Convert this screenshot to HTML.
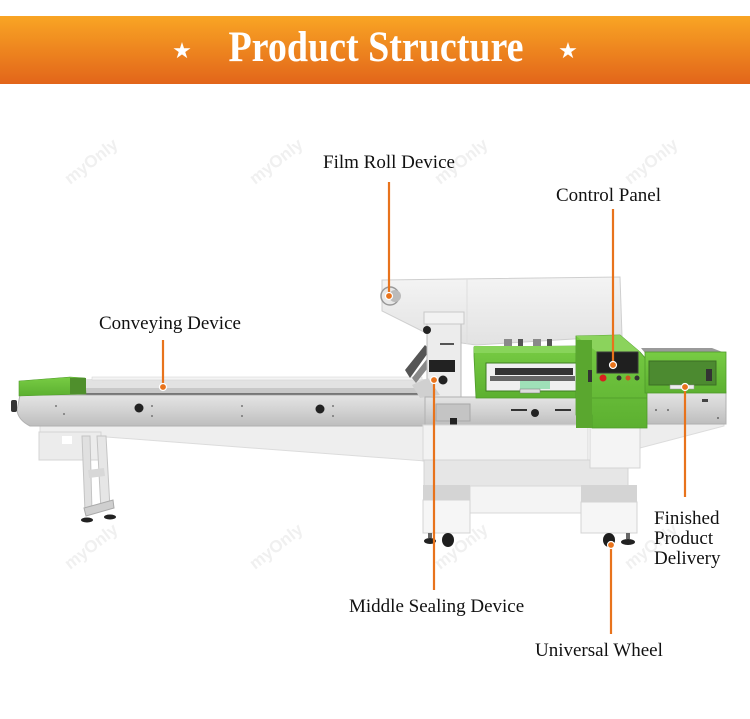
<!DOCTYPE html>
<html><head><meta charset="utf-8"><style>
html,body{margin:0;padding:0;background:#fff;}
body{width:750px;height:719px;overflow:hidden;}
svg{display:block;}
.lbl{font-family:"Liberation Serif",serif;font-size:19px;fill:#111;}
.wm{font-family:"Liberation Sans",sans-serif;font-size:17px;font-weight:bold;fill:#f0f0f0;}
</style></head><body>
<svg width="750" height="719" viewBox="0 0 750 719" xmlns="http://www.w3.org/2000/svg">
<defs>
<linearGradient id="ban" x1="0" y1="0" x2="0" y2="1">
<stop offset="0" stop-color="#f9a524"/><stop offset="1" stop-color="#e2651a"/>
</linearGradient>
<linearGradient id="sil" x1="0" y1="0" x2="0" y2="1">
<stop offset="0" stop-color="#e4e4e4"/><stop offset="0.5" stop-color="#d2d2d2"/><stop offset="1" stop-color="#bdbdbd"/>
</linearGradient>
<linearGradient id="grn" x1="0" y1="0" x2="0" y2="1">
<stop offset="0" stop-color="#78cc44"/><stop offset="1" stop-color="#5cb030"/>
</linearGradient>
<linearGradient id="wht" x1="0" y1="0" x2="0" y2="1">
<stop offset="0" stop-color="#f4f4f4"/><stop offset="1" stop-color="#e2e2e2"/>
</linearGradient>
</defs>

<!-- watermarks -->
<g>
<text class="wm" transform="translate(70,185) rotate(-38)">myOnly</text>
<text class="wm" transform="translate(255,185) rotate(-38)">myOnly</text>
<text class="wm" transform="translate(440,185) rotate(-38)">myOnly</text>
<text class="wm" transform="translate(630,185) rotate(-38)">myOnly</text>
<text class="wm" transform="translate(70,570) rotate(-38)">myOnly</text>
<text class="wm" transform="translate(255,570) rotate(-38)">myOnly</text>
<text class="wm" transform="translate(440,570) rotate(-38)">myOnly</text>
<text class="wm" transform="translate(630,570) rotate(-38)">myOnly</text>
</g>

<!-- banner -->
<rect x="0" y="16" width="750" height="68" fill="url(#ban)"/>
<text x="182" y="58" fill="#fff" font-family="DejaVu Sans,sans-serif" font-size="22" text-anchor="middle">★</text>
<text x="568" y="58" fill="#fff" font-family="DejaVu Sans,sans-serif" font-size="22" text-anchor="middle">★</text>
<text x="0" y="0" fill="#fff" font-family="Liberation Serif,serif" font-weight="bold" font-size="38" text-anchor="middle" transform="translate(376,61) scale(1,1.15)">Product Structure</text>

<!-- ===== machine ===== -->
<!-- film roll back panel -->
<polygon points="382,280 620,277 622,336 476,345 440,340 382,311" fill="url(#wht)" stroke="#cfcfcf" stroke-width="1"/>
<line x1="467" y1="279" x2="467" y2="344" stroke="#dedede"/>
<circle cx="390" cy="296" r="9" fill="#e8e8e8" stroke="#999" stroke-width="1.5"/>
<circle cx="395" cy="296" r="6" fill="#bbb"/>

<!-- conveyor underside slant -->
<polygon points="40,424 425,424 425,461 40,432" fill="#eeeeee" stroke="#dcdcdc"/>
<!-- bracket -->
<rect x="39" y="432" width="62" height="28" fill="#ececec" stroke="#d4d4d4"/>
<rect x="62" y="436" width="10" height="8" fill="#fff"/>
<!-- legs -->
<polygon points="82,436 90,436 92,512 85,512" fill="#e0e0e0" stroke="#c4c4c4"/>
<polygon points="97,436 106,436 110,508 101,510" fill="#e6e6e6" stroke="#c4c4c4"/>
<polygon points="88,470 104,468 105,476 89,478" fill="#d8d8d8"/>
<polygon points="84,508 113,500 114,508 86,516" fill="#cfcfcf" stroke="#aaa"/>
<ellipse cx="87" cy="520" rx="6" ry="2.5" fill="#222"/>
<ellipse cx="110" cy="517" rx="6" ry="2.5" fill="#222"/>

<!-- conveyor side panel -->
<path d="M20,395 L425,395 L425,426 L30,426 Q18,420 17,410 Z" fill="url(#sil)" stroke="#b0b0b0"/>
<rect x="11" y="400" width="6" height="12" rx="2" fill="#333"/>
<circle cx="139" cy="408" r="4.5" fill="#222"/>
<circle cx="320" cy="409" r="4.5" fill="#222"/>
<g fill="#777"><circle cx="56" cy="406" r="1"/><circle cx="64" cy="414" r="1"/><circle cx="152" cy="406" r="1"/><circle cx="152" cy="416" r="1"/><circle cx="242" cy="406" r="1"/><circle cx="242" cy="416" r="1"/><circle cx="333" cy="406" r="1"/><circle cx="333" cy="416" r="1"/></g>
<!-- rail -->
<rect x="63" y="379" width="362" height="16" fill="#e2e2e2"/>
<rect x="92" y="377" width="330" height="3" fill="#f4f4f4" stroke="#cfcfcf" stroke-width="0.5"/>
<rect x="63" y="388" width="362" height="6" fill="#c8c8c8"/>
<line x1="63" y1="394" x2="425" y2="394" stroke="#444" stroke-width="1.2"/>
<!-- left green block -->
<polygon points="19,381 70,377 85,378 86,394 19,396" fill="url(#grn)" stroke="#4e9a2a" stroke-width="0.6"/>
<rect x="70" y="378" width="16" height="16" fill="#4f8f2c"/>

<!-- forming mechanism -->
<polygon points="405,370 425,345 430,350 410,378" fill="#555"/>
<polygon points="412,378 430,355 434,360 416,383" fill="#888"/>
<rect x="427" y="314" width="34" height="84" fill="#ececec" stroke="#b8b8b8"/>
<rect x="424" y="312" width="40" height="12" fill="#f2f2f2" stroke="#c8c8c8"/>
<rect x="429" y="360" width="26" height="12" fill="#222"/>
<circle cx="427" cy="330" r="4" fill="#222"/>
<circle cx="443" cy="380" r="4.5" fill="#222"/>
<line x1="440" y1="344" x2="454" y2="344" stroke="#222" stroke-width="1.5"/>
<polygon points="412,385 428,378 440,395 420,398" fill="#d0d0d0"/>

<!-- switches -->
<rect x="504" y="339" width="8" height="10" fill="#8a8a8a"/>
<rect x="518" y="339" width="5" height="10" fill="#555"/>
<rect x="533" y="339" width="8" height="10" fill="#8a8a8a"/>
<rect x="547" y="339" width="5" height="10" fill="#555"/>

<!-- middle silver panel -->
<rect x="425" y="397" width="155" height="29" fill="url(#sil)" stroke="#b0b0b0"/>
<rect x="436" y="404" width="34" height="17" fill="#c4c4c4" stroke="#a8a8a8"/>
<rect x="450" y="418" width="7" height="7" fill="#222"/>
<rect x="511" y="409" width="16" height="2" fill="#333"/>
<rect x="555" y="409" width="16" height="2" fill="#333"/>
<circle cx="535" cy="413" r="4" fill="#222"/>

<!-- sealing green box -->
<polygon points="474,347 579,346 584,352 584,398 476,398 474,356" fill="url(#grn)" stroke="#4e9a2a" stroke-width="0.8"/>
<rect x="474" y="346" width="108" height="7" fill="#88d45a"/>
<rect x="486" y="363" width="91" height="28" fill="#f0f0f0" stroke="#3e7e22"/>
<rect x="495" y="368" width="78" height="7" fill="#333"/>
<rect x="490" y="376" width="85" height="5" fill="#666"/>
<rect x="520" y="381" width="30" height="8" fill="#9fe0b8"/>
<rect x="520" y="389" width="20" height="4" fill="#ddd" stroke="#777" stroke-width="0.5"/>

<!-- lower white body -->
<rect x="423" y="425" width="165" height="36" fill="#f2f2f2" stroke="#d8d8d8"/>
<!-- right silver and slant -->
<polygon points="640,424 724,424 724,426 640,448" fill="#ededed" stroke="#dcdcdc"/>
<rect x="644" y="392" width="82" height="32" fill="url(#sil)" stroke="#b0b0b0"/>
<g fill="#666"><circle cx="656" cy="410" r="1"/><circle cx="668" cy="410" r="1"/><circle cx="718" cy="418" r="1"/></g>
<rect x="702" y="399" width="6" height="3" fill="#444"/>

<!-- base frame -->
<rect x="424" y="460" width="204" height="26" fill="#e6e6e6" stroke="#d4d4d4"/>
<rect x="470" y="486" width="112" height="27" fill="#f4f4f4" stroke="#d8d8d8"/>
<rect x="423" y="485" width="47" height="15" fill="#d4d4d4"/>
<rect x="423" y="500" width="47" height="33" fill="#f6f6f6" stroke="#d4d4d4"/>
<rect x="581" y="485" width="56" height="17" fill="#d4d4d4"/>
<rect x="581" y="502" width="56" height="31" fill="#f6f6f6" stroke="#d4d4d4"/>
<!-- wheels -->
<rect x="428" y="533" width="4" height="5" fill="#666"/>
<ellipse cx="430" cy="541" rx="6" ry="3" fill="#222"/>
<ellipse cx="448" cy="540" rx="6" ry="7" fill="#1e1e1e"/>
<ellipse cx="609" cy="540" rx="6" ry="7" fill="#1e1e1e"/>
<rect x="626" y="533" width="4" height="6" fill="#666"/>
<ellipse cx="628" cy="542" rx="7" ry="3" fill="#222"/>

<!-- control panel -->
<rect x="590" y="425" width="50" height="43" fill="#f4f4f4" stroke="#d4d4d4"/>
<polygon points="576,336 620,335 640,352 647,360 647,428 592,428 592,415 576,415" fill="url(#grn)" stroke="#4e9a2a" stroke-width="0.8"/>
<polygon points="576,336 620,335 640,352 597,352" fill="#8bd35c"/>
<rect x="576" y="340" width="16" height="88" fill="#5aa72f"/>
<rect x="597" y="352" width="41" height="21" fill="#1f1f1f" stroke="#3a3a3a"/>
<circle cx="603" cy="378" r="3.5" fill="#d82020"/>
<circle cx="619" cy="378" r="2.5" fill="#333"/>
<circle cx="628" cy="378" r="2.5" fill="#cc5522"/>
<circle cx="637" cy="378" r="2.5" fill="#333"/>
<line x1="592" y1="398" x2="647" y2="398" stroke="#4e9a2a" stroke-width="0.8"/>
<rect x="588" y="370" width="4" height="12" fill="#333"/>

<!-- right delivery box -->
<polygon points="641,348 712,348 725,353 645,353" fill="#9a9a9a"/>
<rect x="645" y="352" width="81" height="41" fill="url(#grn)" stroke="#4e9a2a" stroke-width="0.8"/>
<rect x="649" y="361" width="67" height="24" fill="#4c8a30" stroke="#3c6e24"/>
<rect x="706" y="369" width="6" height="12" fill="#333"/>
<rect x="670" y="385" width="24" height="4" fill="#eee" stroke="#999" stroke-width="0.5"/>

<!-- ===== connectors ===== -->
<g stroke="#e8731c" stroke-width="2.2" fill="none">
<line x1="389" y1="182" x2="389" y2="296"/>
<line x1="613" y1="209" x2="613" y2="365"/>
<line x1="163" y1="340" x2="163" y2="387"/>
<line x1="434" y1="380" x2="434" y2="590"/>
<line x1="611" y1="545" x2="611" y2="634"/>
<line x1="685" y1="387" x2="685" y2="497"/>
</g>
<g fill="#e8731c" stroke="#fff" stroke-width="1.2">
<circle cx="389" cy="296" r="3.5"/>
<circle cx="613" cy="365" r="3.5"/>
<circle cx="163" cy="387" r="3.5"/>
<circle cx="434" cy="380" r="3.5"/>
<circle cx="611" cy="545" r="3.5"/>
<circle cx="685" cy="387" r="3.5"/>
</g>

<!-- labels -->
<text class="lbl" x="323" y="168">Film Roll Device</text>
<text class="lbl" x="556" y="201">Control Panel</text>
<text class="lbl" x="99" y="329">Conveying Device</text>
<text class="lbl" x="349" y="612">Middle Sealing Device</text>
<text class="lbl" x="535" y="656">Universal Wheel</text>
<text class="lbl" x="654" y="524">Finished</text>
<text class="lbl" x="654" y="544">Product</text>
<text class="lbl" x="654" y="564">Delivery</text>
</svg>
</body></html>
